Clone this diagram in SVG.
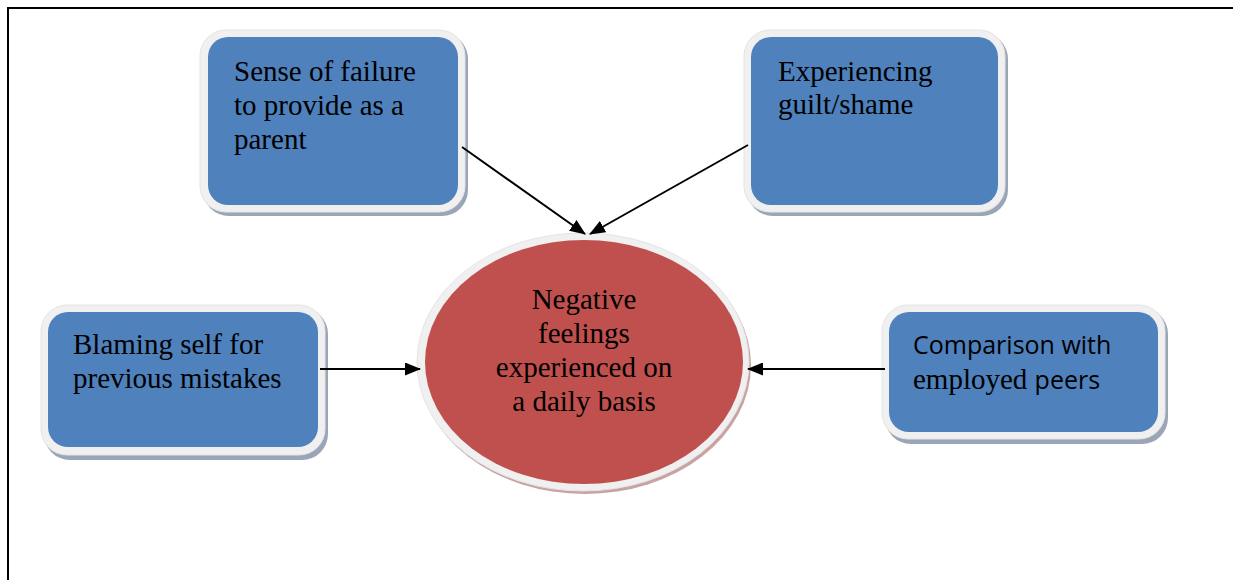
<svg xmlns="http://www.w3.org/2000/svg" width="1233" height="580" viewBox="0 0 1233 580">
<defs>
<style>
.shadow{fill:#9aa6b8}
.frame{fill:#f0f0f0;stroke:#e4e4e4;stroke-width:1}
.blue{fill:#4f81bd}
.eshadow{fill:#c9a3a3}
.red{fill:#c0504d}
.serif{font-family:"Liberation Serif","Times New Roman",serif;font-size:29px;fill:#000}
.sans{font-family:"Open Sans","Liberation Sans",sans-serif;font-size:25px;fill:#000}
.conn{stroke:#000;stroke-width:2;fill:none;marker-end:url(#arr)}
</style>
<marker id="arr" viewBox="0 0 16 13" refX="15" refY="6.5" markerWidth="16" markerHeight="13" markerUnits="userSpaceOnUse" orient="auto">
<path d="M0,0 L16,6.5 L0,13 z" fill="#000"/>
</marker>
</defs>
<rect width="1233" height="580" fill="#fff"/>
<g id="page-frame" fill="none" stroke="#000" stroke-width="2">
<path d="M8,580 L8,8 L1233,8"/>
</g>
<g id="node-failure">
<rect class="shadow" x="203" y="33" width="265" height="183" rx="26"/>
<rect class="frame" x="200" y="30" width="265" height="182" rx="26"/>
<rect class="blue" x="208" y="37" width="250" height="168" rx="20"/>
<text class="serif" x="234" y="81">Sense of failure</text>
<text class="serif" x="234" y="115">to provide as a</text>
<text class="serif" x="234" y="149">parent</text>
</g>
<g id="node-guilt">
<rect class="shadow" x="747" y="33" width="261" height="183" rx="26"/>
<rect class="frame" x="744" y="30" width="261" height="182" rx="26"/>
<rect class="blue" x="751" y="37" width="247" height="168" rx="20"/>
<text class="serif" x="778" y="81">Experiencing</text>
<text class="serif" x="778" y="114">guilt/shame</text>
</g>
<g id="node-blaming">
<rect class="shadow" x="44" y="308" width="284" height="152" rx="26"/>
<rect class="frame" x="41" y="305" width="284" height="150" rx="26"/>
<rect class="blue" x="48" y="312" width="270" height="135" rx="20"/>
<text class="serif" x="73" y="354">Blaming self for</text>
<text class="serif" x="73" y="388">previous mistakes</text>
</g>
<g id="node-comparison">
<rect class="shadow" x="885" y="308" width="283" height="136" rx="26"/>
<rect class="frame" x="882" y="305" width="283" height="134" rx="26"/>
<rect class="blue" x="889" y="312" width="269" height="120" rx="20"/>
<text class="sans" x="913" y="354">Comparison with</text>
<text x="913" y="389"><tspan class="serif">employed </tspan><tspan class="sans">peers</tspan></text>
</g>
<g id="node-negative">
<ellipse class="eshadow" cx="585" cy="365" rx="166" ry="129"/>
<ellipse class="frame" cx="583" cy="362" rx="166" ry="129"/>
<ellipse class="red" cx="584" cy="362" rx="159" ry="122"/>
<text class="serif" text-anchor="middle" x="584" y="309">Negative</text>
<text class="serif" text-anchor="middle" x="584" y="343">feelings</text>
<text class="serif" text-anchor="middle" x="584" y="377">experienced on</text>
<text class="serif" text-anchor="middle" x="584" y="411">a daily basis</text>
</g>
<g id="connectors">
<line class="conn" x1="462" y1="147" x2="585" y2="234"/>
<line class="conn" x1="748" y1="145" x2="590" y2="234"/>
<line class="conn" x1="320" y1="369" x2="420" y2="369"/>
<line class="conn" x1="885" y1="369" x2="748" y2="369"/>
</g>
</svg>
